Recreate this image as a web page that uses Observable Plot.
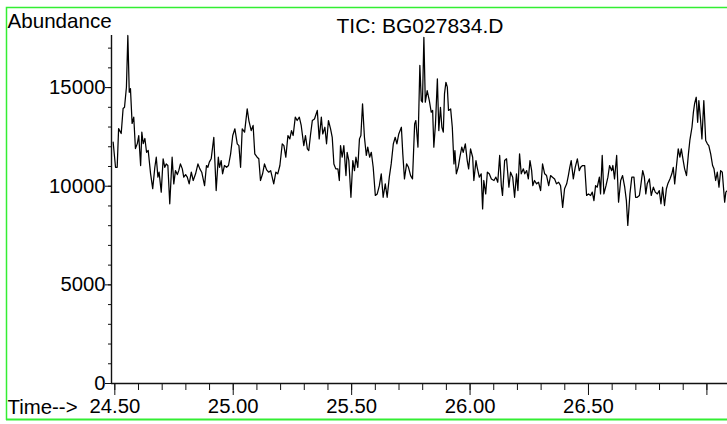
<!DOCTYPE html>
<html>
<head>
<meta charset="utf-8">
<script src="https://cdn.jsdelivr.net/npm/d3@7"></script>
<script src="https://cdn.jsdelivr.net/npm/@observablehq/plot@0.6"></script>
<style>
  html, body { margin: 0; padding: 0; background: #fff; }
  #chart svg { display: block; }
</style>
</head>
<body>
<div id="chart"></div>
<script>
const chartTitle = "TIC: BG027834.D";
const yAxisLabel = "Abundance";
const xAxisLabel = "Time-->";

const times = [
  24.493,24.503,24.510,24.516,24.527,24.535,24.541,24.549,24.555,24.561,
  24.566,24.573,24.580,24.587,24.595,24.601,24.609,24.614,24.620,24.627,
  24.634,24.641,24.651,24.660,24.669,24.675,24.682,24.687,24.696,24.704,
  24.711,24.717,24.724,24.732,24.742,24.749,24.756,24.764,24.770,24.777,
  24.785,24.791,24.799,24.806,24.814,24.823,24.831,24.841,24.851,24.859,
  24.867,24.879,24.887,24.893,24.899,24.907,24.918,24.928,24.937,24.942,
  24.949,24.955,24.963,24.972,24.980,24.989,24.998,25.007,25.017,25.024,
  25.031,25.038,25.048,25.059,25.066,25.076,25.084,25.091,25.101,25.108,
  25.115,25.124,25.132,25.141,25.150,25.158,25.163,25.171,25.180,25.188,
  25.197,25.207,25.214,25.222,25.231,25.239,25.246,25.253,25.262,25.270,
  25.279,25.287,25.298,25.305,25.313,25.319,25.326,25.334,25.343,25.355,
  25.363,25.372,25.378,25.387,25.394,25.402,25.411,25.418,25.425,25.433,
  25.442,25.448,25.453,25.460,25.467,25.476,25.481,25.488,25.497,25.505,
  25.512,25.518,25.526,25.533,25.539,25.546,25.554,25.562,25.568,25.576,
  25.583,25.591,25.600,25.608,25.617,25.625,25.633,25.642,25.650,25.659,
  25.667,25.676,25.684,25.691,25.699,25.710,25.716,25.723,25.732,25.740,
  25.749,25.757,25.766,25.771,25.780,25.788,25.794,25.799,25.805,25.811,
  25.819,25.828,25.836,25.842,25.847,25.854,25.862,25.868,25.875,25.881,
  25.887,25.892,25.898,25.904,25.909,25.918,25.925,25.932,25.936,25.942,
  25.950,25.957,25.965,25.971,25.980,25.988,25.994,26.002,26.011,26.016,
  26.025,26.030,26.039,26.047,26.053,26.058,26.066,26.073,26.081,26.090,
  26.101,26.109,26.117,26.125,26.132,26.137,26.146,26.154,26.164,26.171,
  26.180,26.188,26.196,26.202,26.209,26.216,26.225,26.231,26.239,26.246,
  26.253,26.260,26.265,26.272,26.281,26.289,26.298,26.306,26.315,26.323,
  26.332,26.340,26.348,26.357,26.365,26.374,26.382,26.391,26.399,26.408,
  26.415,26.421,26.427,26.436,26.444,26.453,26.461,26.467,26.475,26.484,
  26.492,26.500,26.509,26.516,26.523,26.530,26.537,26.546,26.551,26.558,
  26.565,26.574,26.582,26.589,26.598,26.603,26.610,26.619,26.627,26.636,
  26.644,26.653,26.660,26.666,26.675,26.683,26.692,26.699,26.706,26.715,
  26.720,26.729,26.736,26.742,26.748,26.757,26.765,26.774,26.782,26.791,
  26.799,26.806,26.813,26.821,26.829,26.835,26.844,26.852,26.858,26.864,
  26.871,26.879,26.886,26.892,26.900,26.906,26.914,26.922,26.928,26.937,
  26.943,26.948,26.955,26.961,26.966,26.973,26.979,26.987,26.995,27.002,
  27.008,27.016,27.024,27.030,27.037,27.044,27.051,27.058,27.065,27.075,
  27.080,27.086
];

const abundance = [
  12230,10960,10960,12920,12670,13940,14000,15020,17640,14760,
  14950,13180,13500,11910,12160,12570,11050,12740,12160,12420,
  11720,11810,10640,9880,10960,11470,10460,10710,9700,11390,
  10960,11130,11050,9110,11470,10120,10790,10590,10790,11130,
  10880,10460,10590,10460,10120,10710,10290,10630,11130,10880,
  10710,10030,11050,10960,11220,11390,12480,9780,11470,10960,
  11300,10630,11050,10960,11050,11640,12570,12910,12150,12060,
  10960,12910,12740,13920,13330,12820,13080,11640,11470,11390,
  10290,10630,11130,10830,10710,10790,10540,10120,10710,10630,
  11050,12150,12060,11470,12570,12400,12820,12570,13500,13330,
  13500,13080,12060,12570,11890,11810,12570,13330,13410,13840,
  12400,13500,12650,12990,12150,13330,12910,12480,11130,10880,
  10880,10290,12060,11470,12060,10540,11720,11300,9440,11300,
  10790,11470,10960,12400,12570,14180,12480,11560,11980,11470,
  11720,10960,9530,9610,10030,10630,9440,10120,9440,10460,
  11130,12150,12480,12150,12650,12990,11640,10370,11130,10960,
  10540,10370,13160,13330,11980,16120,14340,14260,17550,14260,
  14850,14340,13750,13840,11980,13160,15440,12820,14000,12990,
  12740,14680,15270,15020,13840,13920,12990,11130,11810,10630,
  10960,11470,11980,11720,12150,11300,10880,11890,11470,10290,
  11300,10960,10460,10630,8850,10290,9610,10710,10630,10370,
  10290,10460,10200,11560,10030,9530,11300,11390,9950,10710,
  10460,9440,10630,9780,11640,10630,10880,10630,10790,10370,
  11300,10790,10030,10290,10120,10200,9780,11130,10630,10540,
  10030,10540,10460,10370,10120,10200,10030,8930,9870,10120,
  10540,10960,11300,10370,10960,11390,10790,10960,11050,11050,
  9530,9610,9530,9700,9270,10030,9950,10460,9610,11560,
  9610,10030,10460,11050,10790,11050,10370,11560,9190,10290,
  10540,9950,9270,8010,9610,10460,10460,9440,9440,9530,
  9950,10790,10460,9610,10120,10370,9530,9950,9700,9610,
  9780,9110,9950,9020,9870,10120,10370,10630,10960,10120,
  10960,11890,11470,11890,11300,10880,10540,11640,12320,12990,
  13750,14180,14510,13240,14340,13410,12400,14340,12320,12150,
  12060,11640,11050,10880,10290,10710,9950,10790,10710,9190,
  9700,9780
];

const timeDomain = [24.486, 27.087];
const abundanceDomain = [0, 17640];
const yMajorTicks = [0, 5000, 10000, 15000];
const yMinorTicks = [0,1000,2000,3000,4000,5000,6000,7000,8000,9000,10000,11000,12000,13000,14000,15000,16000,17000];
const xMajorTicks = [24.5, 25.0, 25.5, 26.0, 26.5, 27.0];
const xTickLabels = ["24.50", "25.00", "25.50", "26.00", "26.50", ""];
const xMinorTicks = [24.5,24.6,24.7,24.8,24.9,25.0,25.1,25.2,25.3,25.4,25.5,25.6,25.7,25.8,25.9,26.0,26.1,26.2,26.3,26.4,26.5,26.6,26.7,26.8,26.9,27.0];

const n = Math.min(times.length, abundance.length);
const data = [];
for (let i = 0; i < n; i++) data.push({time: times[i], value: abundance[i]});
const xLabelMap = new Map(xMajorTicks.map((t, i) => [t, xTickLabels[i]]));

const font = "'Liberation Sans', Arial, Helvetica, sans-serif";

const chart = Plot.plot({
  width: 727,
  height: 424,
  marginLeft: 111,
  marginRight: 0,
  marginTop: 35,
  marginBottom: 41,
  style: {fontFamily: font, fontSize: "20px", color: "#000", background: "#fff", overflow: "visible"},
  x: {domain: timeDomain},
  y: {domain: abundanceDomain},
  marks: [
    Plot.axisY(yMinorTicks, {tickSize: 3, tickFormat: () => "", label: null, stroke: "#111"}),
    Plot.axisY(yMajorTicks, {tickSize: 6, tickPadding: 0, tickFormat: d => String(d), label: null, stroke: "#111", fontSize: 20.3, fill: "#000"}),
    Plot.axisX(xMinorTicks, {tickSize: 7, tickFormat: () => "", label: null, stroke: "#111"}),
    Plot.axisX(xMajorTicks, {tickSize: 12, tickPadding: 3, tickFormat: d => xLabelMap.get(d) ?? "", label: null, stroke: "#111", fontSize: 20.3, fill: "#000"}),
    Plot.ruleX([timeDomain[0]], {stroke: "#111", strokeWidth: 1.4}),
    Plot.ruleY([0], {stroke: "#111", strokeWidth: 1.4}),
    Plot.line(data, {x: "time", y: "value", stroke: "#000", strokeWidth: 1.25}),
    Plot.text([yAxisLabel], {frameAnchor: "top-left", dx: -104, dy: -8, textAnchor: "start", lineAnchor: "bottom", fontSize: 20.6, fill: "#000"}),
    Plot.text([chartTitle], {frameAnchor: "top-left", dx: 225, dy: -3, textAnchor: "start", lineAnchor: "bottom", fontSize: 21, fill: "#000"}),
    Plot.text([xAxisLabel], {frameAnchor: "bottom-left", dx: -104, dy: 30, textAnchor: "start", lineAnchor: "bottom", fontSize: 20.4, fill: "#000"})
  ]
});

const svg = d3.select(chart);
svg.append("path")
  .attr("d", "M6.5,420 V7.5 H727")
  .attr("fill", "none")
  .attr("stroke", "#33ee33")
  .attr("stroke-width", 1.5);
svg.append("line")
  .attr("x1", 6).attr("x2", 727).attr("y1", 419.5).attr("y2", 419.5)
  .attr("stroke", "#33ee33")
  .attr("stroke-width", 2);

document.getElementById("chart").appendChild(chart);
</script>
</body>
</html>
